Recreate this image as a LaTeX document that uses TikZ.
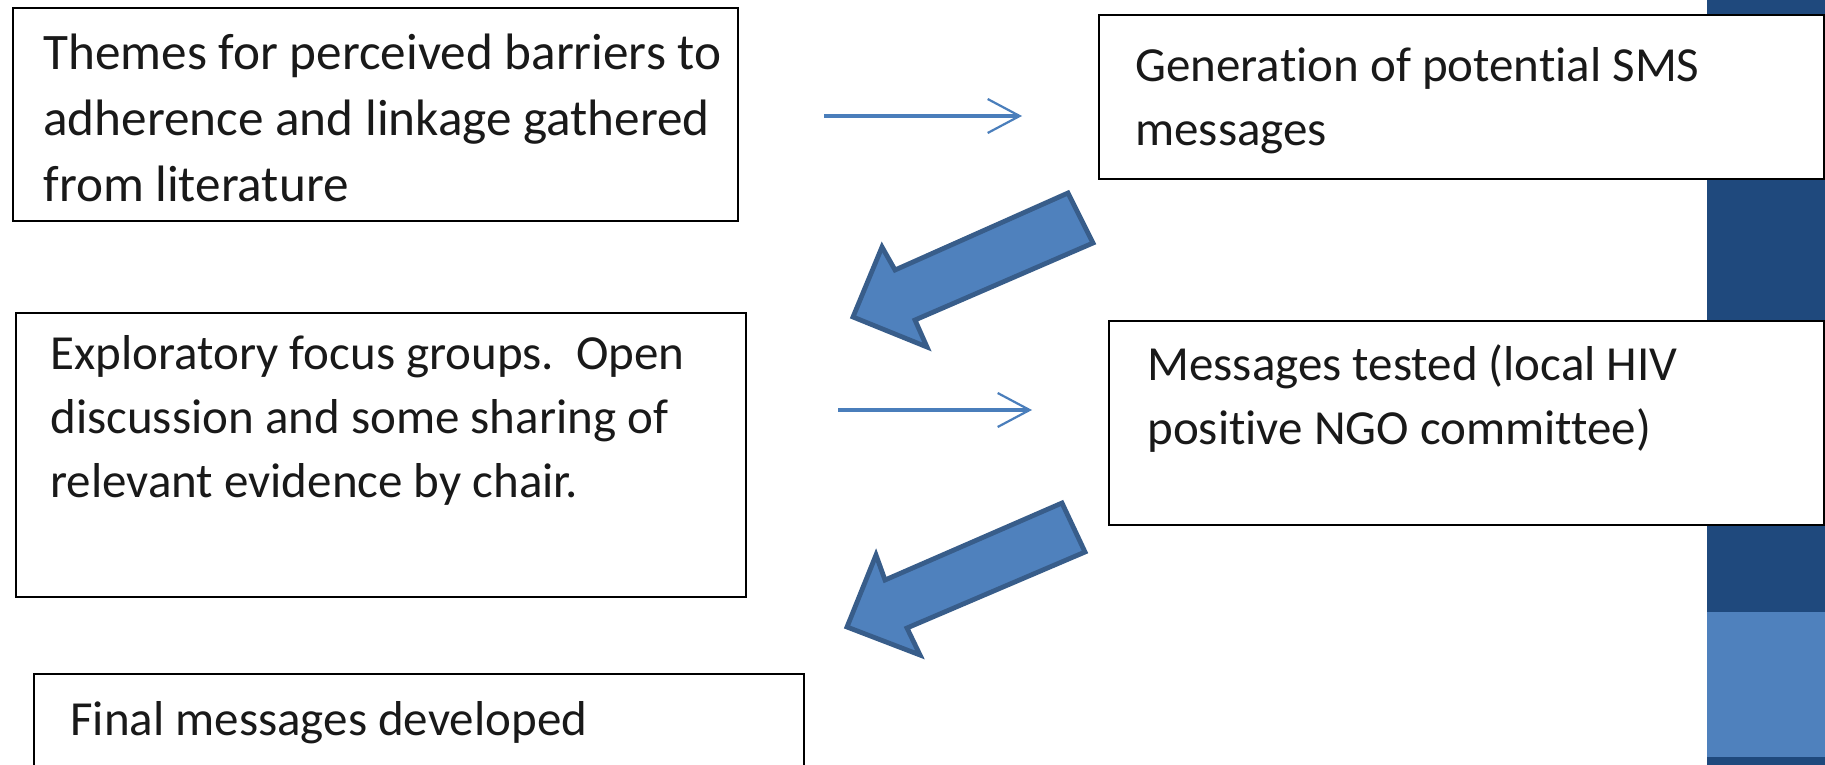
\documentclass[tikz,border=0pt]{standalone}
\usepackage{fontspec}
\setmainfont[Ligatures=NoCommon]{Carlito}
\usetikzlibrary{arrows.meta,positioning}
\definecolor{barDark}{HTML}{1F497D}
\definecolor{barLight}{HTML}{4F81BD}
\definecolor{arrFill}{HTML}{4F81BD}
\definecolor{arrLine}{HTML}{385D8A}
\definecolor{thinBlue}{HTML}{4A7EBB}

\begin{document}
\begin{tikzpicture}[x=0.5pt,y=-0.5pt,
    box/.style={draw=black,line width=1.2pt,fill=white,inner sep=0pt,anchor=north west},
    txt/.style={anchor=north west,inner sep=0pt,align=left,text=black!90,
      font=\fontsize{24.5}{32}\selectfont},
    thinarr/.style={draw=thinBlue,line width=1.7pt,
      -{Straight Barb[length=16pt,width=17pt,line width=1.1pt]}},
    blockarr/.style={fill=arrFill,draw=arrLine,line width=2.4pt,line join=miter}]
  \useasboundingbox (0,0) rectangle (1825,765);
  \fill[barDark] (1707,0) rectangle (1825,765);
  \fill[barLight] (1707,612) rectangle (1825,757);

  \node[box,minimum width=362.5pt,minimum height=106.5pt] (themes) at (12,7) {};
  \node[box,minimum width=362.5pt,minimum height=82pt] (generation) at (1098,14) {};
  \node[box,minimum width=365pt,minimum height=142pt] (focus) at (15,312) {};
  \node[box,minimum width=357.5pt,minimum height=102pt] (tested) at (1108,320) {};
  \node[box,minimum width=385pt,minimum height=60pt] (final) at (33,673) {};

  \node[txt,font=\fontsize{25.6}{33}\selectfont] (themestxt) at (43,34) {Themes for perceived barriers to\\adherence and linkage gathered\\from literature};
  \node[txt] (generationtxt) at (1135,47) {Generation of potential SMS\\messages};
  \node[txt] (focustxt) at (50,335) {Exploratory focus groups.\ \ Open\\discussion and some sharing of\\relevant evidence by chair.};
  \node[txt] (testedtxt) at (1147,344) {Messages tested (local HIV\\positive NGO committee)};
  \node[txt] (finaltxt) at (70,701) {Final messages developed};

  \coordinate (a1s) at (824,116);
  \coordinate (a1e) at (1022,116);
  \coordinate (a2s) at (838,410);
  \coordinate (a2e) at (1032,410);
  \draw[thinarr] (a1s) -- (a1e);
  \draw[thinarr] (a2s) -- (a2e);

  \draw[blockarr] (853,317) -- (882,247) -- (895,270) -- (1068,193) -- (1093,243)
    -- (915,320) -- (927,347) -- cycle;
  \draw[blockarr] (847,627) -- (876,555) -- (885,580) -- (1062,503) -- (1085,552)
    -- (907,628) -- (920,655) -- cycle;
\end{tikzpicture}
\end{document}
